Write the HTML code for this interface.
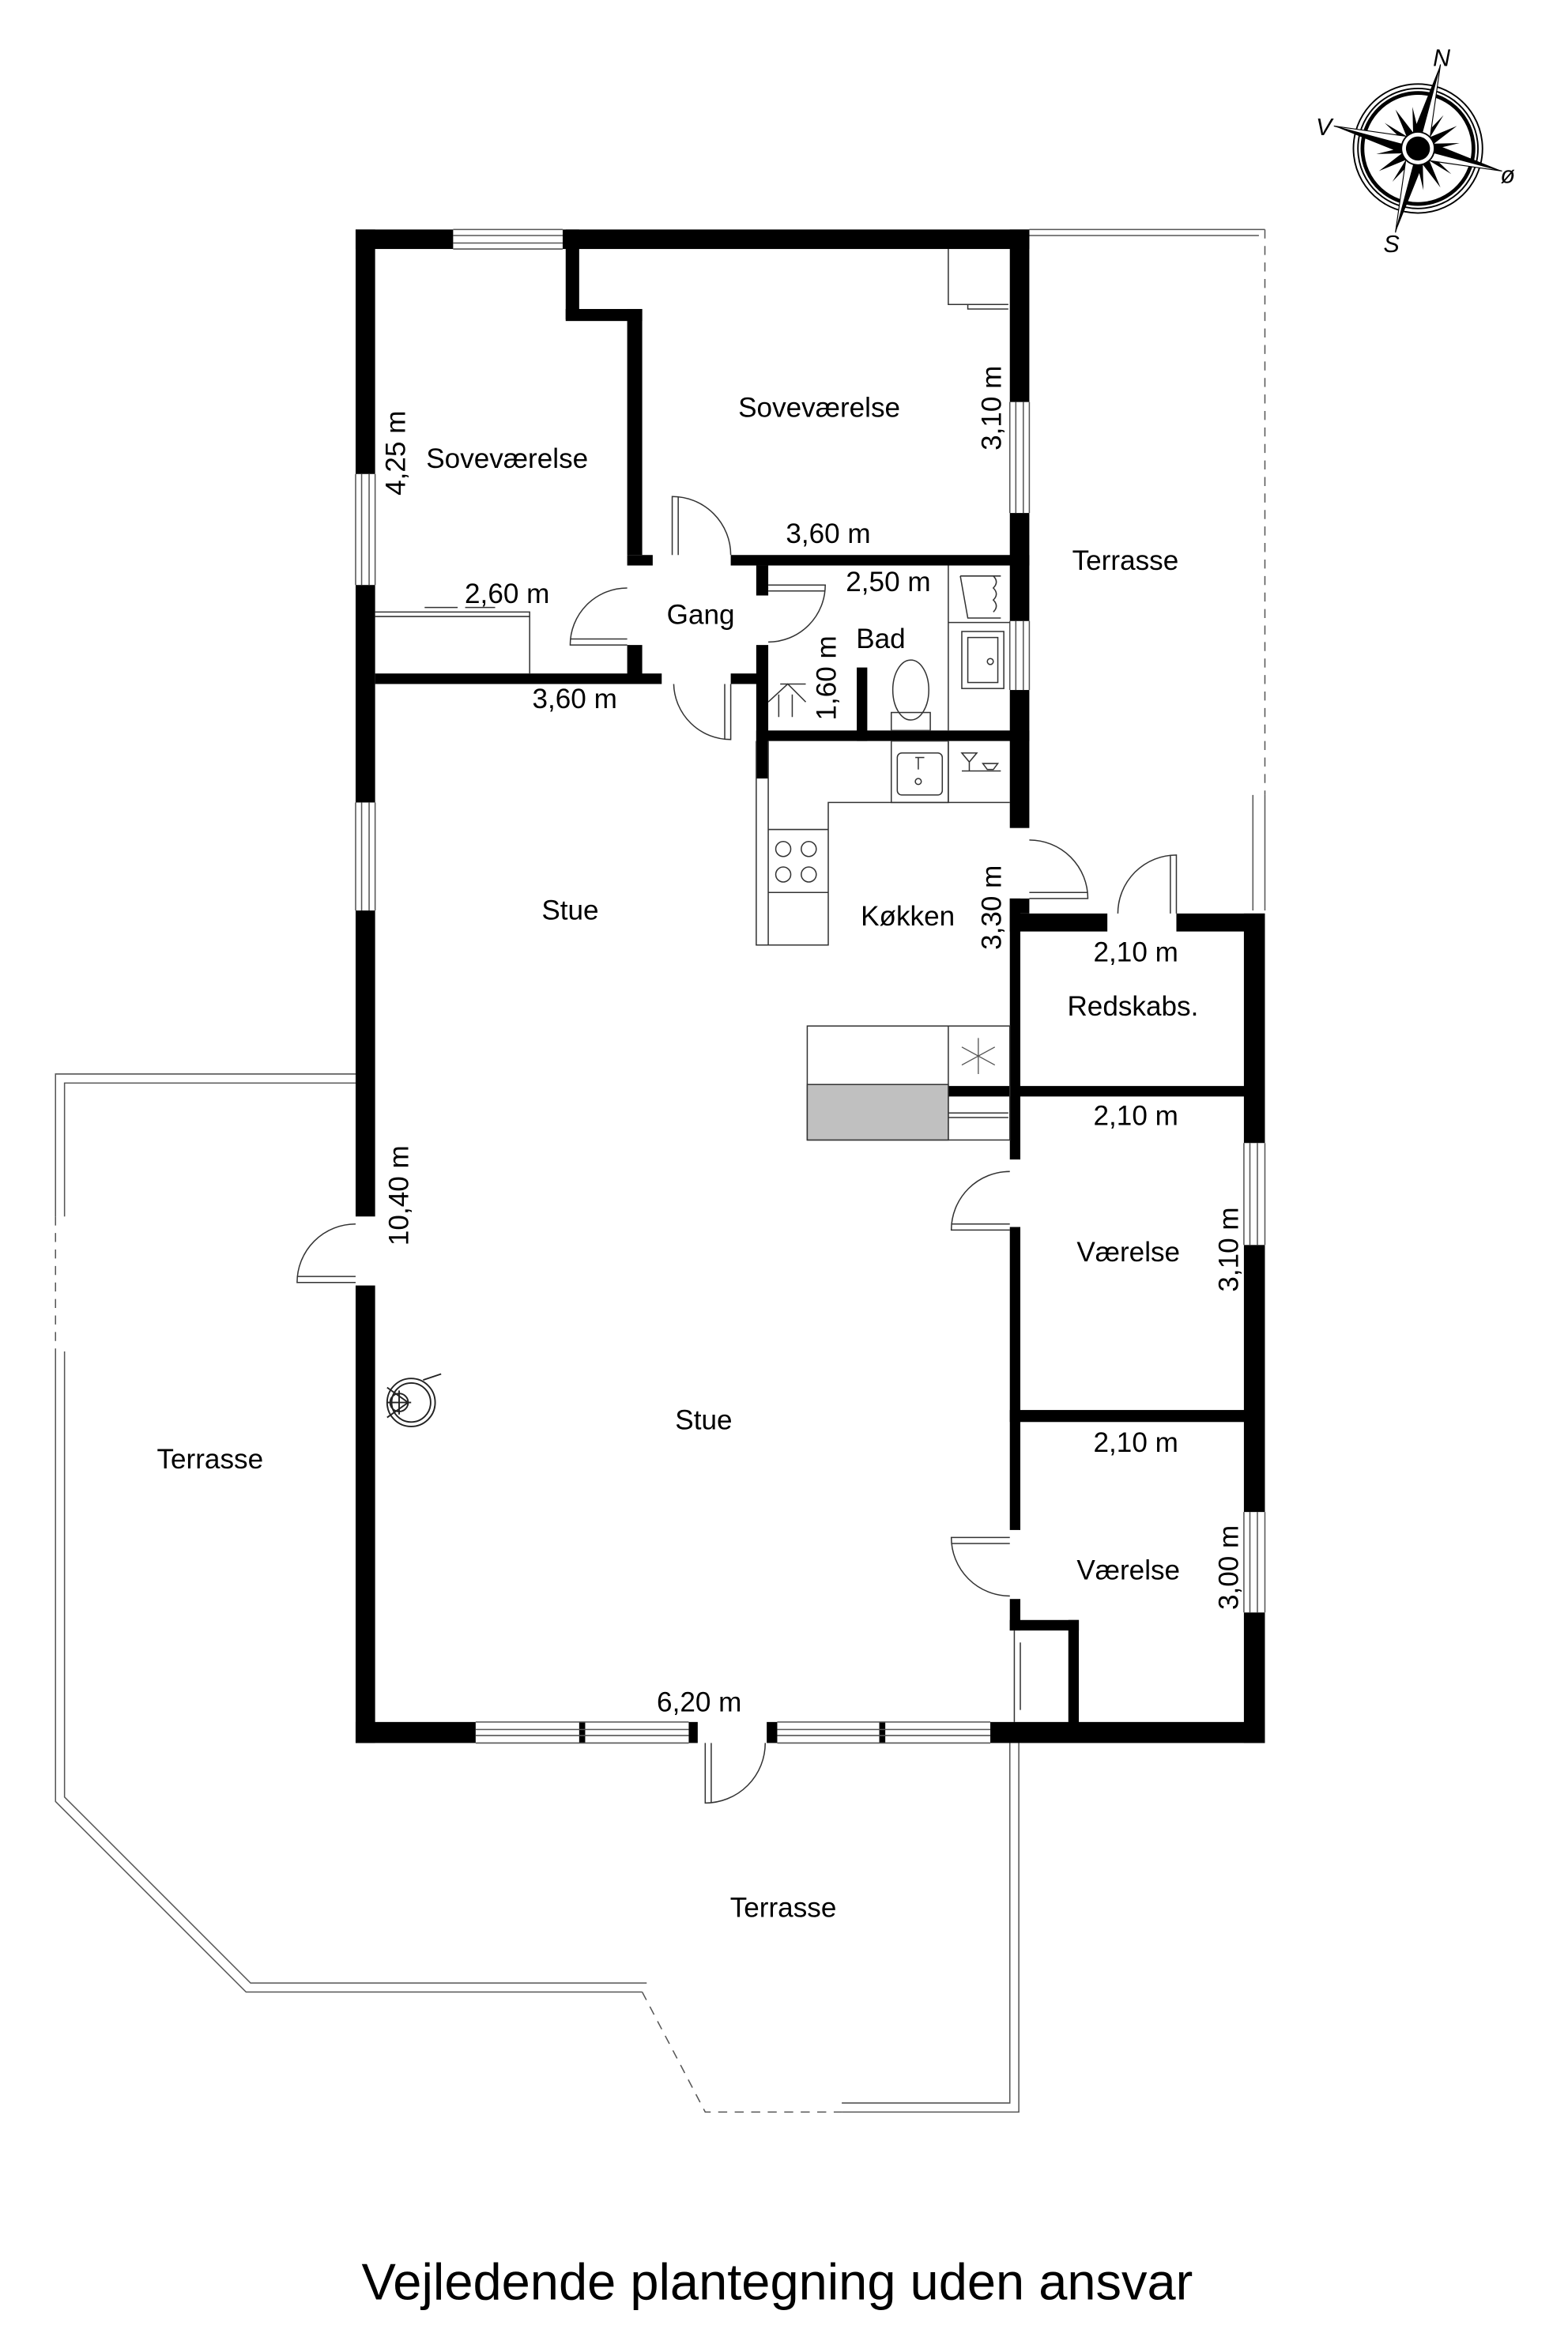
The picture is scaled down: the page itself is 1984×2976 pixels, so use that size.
<!DOCTYPE html>
<html><head><meta charset="utf-8"><style>
html,body{margin:0;padding:0;background:#fff}
svg{display:block}
text{font-family:"Liberation Sans",Arial,sans-serif;fill:#000}
</style></head><body>
<svg width="1984" height="2976" viewBox="0 0 1045 1568" preserveAspectRatio="none" xmlns="http://www.w3.org/2000/svg">
<rect width="1045" height="1568" fill="#fff"/>

<g fill="none" stroke="#555" stroke-width="0.8">
  <path d="M686 153 H843"/><path d="M686 157 H839"/>
  <path d="M843 153 V530" stroke-dasharray="6,5"/>
  <path d="M835 530 V607 M843 530 V607"/>
  <path d="M237 716 H37 V811"/><path d="M237 722 H43 V811"/>
  <path d="M37 811 V901" stroke-dasharray="6,5"/>
  <path d="M37 901 V1201 L164 1328 H428"/>
  <path d="M43 901 V1198 L167 1322 H431"/>
  <path d="M428 1328 L470 1408 H561" stroke-dasharray="6,5"/>
  <path d="M561 1408 H679 V1162"/>
  <path d="M561 1402 H673 V1162"/>
</g>

<g fill="#000">
  <rect x="237" y="153" width="65" height="13"/>
  <rect x="375" y="153" width="311" height="13"/>
  <rect x="237" y="153" width="13" height="163"/>
  <rect x="237" y="390" width="13" height="145"/>
  <rect x="237" y="607" width="13" height="204"/>
  <rect x="237" y="857" width="13" height="305"/>
  <rect x="237" y="1148" width="80" height="14"/>
  <rect x="386" y="1148" width="4" height="14"/>
  <rect x="459" y="1148" width="6" height="14"/>
  <rect x="511" y="1148" width="7" height="14"/>
  <rect x="586" y="1148" width="4" height="14"/>
  <rect x="660" y="1148" width="183" height="14"/>
  <rect x="673" y="153" width="13" height="115"/>
  <rect x="673" y="342" width="13" height="72"/>
  <rect x="673" y="460" width="13" height="92"/>
  <rect x="673" y="599" width="13" height="10"/>
  <rect x="673" y="599" width="7" height="174"/>
  <rect x="673" y="818" width="7" height="202"/>
  <rect x="673" y="1066" width="7" height="21"/>
  <rect x="673" y="1080" width="46" height="7"/>
  <rect x="712" y="1080" width="7" height="70"/>
  <rect x="673" y="609" width="65" height="12"/>
  <rect x="784" y="609" width="59" height="12"/>
  <rect x="829" y="609" width="14" height="153"/>
  <rect x="829" y="830" width="14" height="178"/>
  <rect x="829" y="1075" width="14" height="87"/>
  <rect x="632" y="724" width="211" height="7"/>
  <rect x="673" y="940" width="170" height="8"/>
  <rect x="377" y="153" width="9" height="60"/>
  <rect x="377" y="206" width="51" height="8"/>
  <rect x="418" y="206" width="10" height="164"/>
  <rect x="418" y="370" width="17" height="7"/>
  <rect x="487" y="370" width="199" height="7"/>
  <rect x="418" y="430" width="10" height="25"/>
  <rect x="250" y="449" width="191" height="7"/>
  <rect x="487" y="449" width="23" height="7"/>
  <rect x="504" y="377" width="8" height="20"/>
  <rect x="504" y="430" width="8" height="89"/>
  <rect x="504" y="487" width="182" height="7"/>
  <rect x="571" y="445" width="7" height="49"/>
</g>

<g fill="none" stroke="#555" stroke-width="0.8">
  <path d="M302 153 H375 M302 157 H375 M302 162 H375 M302 166 H375"/>
  <path d="M237 316 V390 M241 316 V390 M246 316 V390 M250 316 V390"/>
  <path d="M237 535 V607 M241 535 V607 M246 535 V607 M250 535 V607"/>
  <path d="M317 1148 H459 M317 1153 H459 M317 1157 H459 M317 1162 H459"/>
  <path d="M518 1148 H660 M518 1153 H660 M518 1157 H660 M518 1162 H660"/>
  <path d="M673 268 V342 M677 268 V342 M682 268 V342 M686 268 V342"/>
  <path d="M673 414 V460 M677 414 V460 M682 414 V460 M686 414 V460"/>
  <path d="M829 762 V830 M833 762 V830 M838 762 V830 M843 762 V830"/>
  <path d="M829 1008 V1075 M833 1008 V1075 M838 1008 V1075 M843 1008 V1075"/>
</g>

<g fill="none" stroke="#333" stroke-width="0.8">
  <path d="M448 370 V331 A39 39 0 0 1 487 370"/><path d="M452 370 V331"/>
  <path d="M418 430 H380 A38 38 0 0 1 418 392"/><path d="M418 426 H380"/>
  <path d="M512 390 H550 A38 38 0 0 1 512 428"/><path d="M512 394 H550"/>
  <path d="M487 456 V493 A38 38 0 0 1 449 456"/><path d="M483 456 V493"/>
  <path d="M686 599 H725 A39 39 0 0 0 686 560"/><path d="M686 595 H725"/>
  <path d="M784 609 V570 A39 39 0 0 0 745 609"/><path d="M780 609 V570"/>
  <path d="M673 820 H634 A39 39 0 0 1 673 781"/><path d="M673 816 H634"/>
  <path d="M673 1025 H634 A39 39 0 0 0 673 1064"/><path d="M673 1029 H634"/>
  <path d="M237 855 H198 A39 39 0 0 1 237 816"/><path d="M237 851 H198"/>
  <path d="M470 1162 V1202 A40 40 0 0 0 510 1162"/><path d="M474 1162 V1202"/>
  <path d="M676 1087 V1148 M680 1095 V1140"/>
</g>

<g fill="none" stroke="#333" stroke-width="0.8">
  <path d="M250 408 H353 V449"/><path d="M250 411 H353"/>
  <path d="M283 405 H305 M310 405 H330"/>
  <path d="M632 166 V203 H672"/><path d="M645 203 V206 H672"/>
  <path d="M632 377 V487"/><path d="M632 415 H673"/>
  <path d="M640 384 H667 M640 384 L645 412 H667"/>
  <path d="M662 384 q4 4 0 8 q4 4 0 8 q4 4 0 8" />
  <rect x="641" y="421" width="28" height="38"/><rect x="645" y="425" width="20" height="30"/>
  <circle cx="660" cy="441" r="2"/>
  <ellipse cx="607" cy="460" rx="12" ry="20"/>
  <rect x="594" y="475" width="26" height="12"/>
  <path d="M512 468 L525 456 L537 468 M519 463 V478 M528 463 V478 M520 456 H537"/>
  <path d="M504 494 V630 H552 V535 H673"/>
  <path d="M512 494 V630"/>
  <path d="M512 553 H552 M512 595 H552"/>
  <circle cx="522" cy="566" r="5"/><circle cx="539" cy="566" r="5"/>
  <circle cx="522" cy="583" r="5"/><circle cx="539" cy="583" r="5"/>
  <rect x="594" y="494" width="38" height="41"/>
  <rect x="598" y="502" width="30" height="28" rx="3"/>
  <circle cx="612" cy="521" r="2"/><path d="M610 505 H616 M612 505 V513"/>
  <path d="M632 494 V535"/>
  <path d="M641 502 L651 502 L646 508 Z M646 508 V514 M655 509 H665 L662 513 H658 Z M641 514 H667"/>
  <rect x="538" y="684" width="135" height="76"/>
  <path d="M538 723 H632 M632 684 V760"/>
  <path d="M632 742 H672 M632 745 H672"/>
</g>
<rect x="538" y="723" width="94" height="37" fill="#c0c0c0" stroke="#333" stroke-width="0.8"/>
<g stroke="#555" stroke-width="0.7" fill="none">
  <path d="M652 692 V716 M641 698 L663 710 M641 710 L663 698"/>
</g>
<g fill="none" stroke="#222" stroke-width="1">
  <circle cx="274" cy="935" r="16"/>
  <circle cx="274" cy="935" r="13"/>
  <circle cx="266" cy="935" r="6"/>
  <path d="M258 935 H274 M266 927 V943 M258 925 L272 935 L258 945"/>
  <path d="M282 920 L294 916"/>
</g>

<g transform="translate(945,99) rotate(15)">
  <circle r="43" fill="none" stroke="#000" stroke-width="1"/>
  <circle r="40" fill="none" stroke="#000" stroke-width="1"/>
  <circle r="37" fill="none" stroke="#000" stroke-width="2.5"/>
  <g fill="#000">
    <g transform="rotate(22.5)"><path d="M0 -28 L3 0 L0 28 L-3 0Z M-28 0 L0 3 L28 0 L0 -3Z"/></g>
    <g transform="rotate(67.5)"><path d="M0 -28 L3 0 L0 28 L-3 0Z M-28 0 L0 3 L28 0 L0 -3Z"/></g>
    <g transform="rotate(45)"><path d="M0 -30 L4 0 L0 30 L-4 0Z M-30 0 L0 4 L30 0 L0 -4Z"/></g>
    <path d="M0 -58 L7 0 L0 58 L-7 0Z M-58 0 L0 7 L58 0 L0 -7Z"/>
  </g>
  <path d="M0 -58 L7 0 L0 0Z M58 0 L0 7 L0 0Z M0 58 L-7 0 L0 0Z M-58 0 L0 -7 L0 0Z" fill="#fff" stroke="#000" stroke-width="0.6"/>
  <circle r="11" fill="#fff" stroke="#000" stroke-width="1"/>
  <circle r="8" fill="#000"/>
</g>
<g font-style="italic" font-size="16">
  <text x="955" y="44">N</text>
  <text x="877" y="90">V</text>
  <text x="1000" y="122">ø</text>
  <text x="922" y="168">S</text>
</g>

<g font-size="18.5" text-anchor="middle">
  <text x="338" y="312">Soveværelse</text>
  <text x="546" y="278">Soveværelse</text>
  <text x="552" y="362">3,60 m</text>
  <text x="338" y="402">2,60 m</text>
  <text x="467" y="416">Gang</text>
  <text x="592" y="394">2,50 m</text>
  <text x="587" y="432">Bad</text>
  <text x="383" y="472">3,60 m</text>
  <text x="380" y="613">Stue</text>
  <text x="605" y="617">Køkken</text>
  <text x="750" y="380">Terrasse</text>
  <text x="757" y="641">2,10 m</text>
  <text x="755" y="677">Redskabs.</text>
  <text x="757" y="750">2,10 m</text>
  <text x="752" y="841">Værelse</text>
  <text x="469" y="953">Stue</text>
  <text x="140" y="979">Terrasse</text>
  <text x="757" y="968">2,10 m</text>
  <text x="752" y="1053">Værelse</text>
  <text x="466" y="1141">6,20 m</text>
  <text x="522" y="1278">Terrasse</text>
  <text transform="translate(270,302) rotate(-90)">4,25 m</text>
  <text transform="translate(667,272) rotate(-90)">3,10 m</text>
  <text transform="translate(557,452) rotate(-90)">1,60 m</text>
  <text transform="translate(667,605) rotate(-90)">3,30 m</text>
  <text transform="translate(825,833) rotate(-90)">3,10 m</text>
  <text transform="translate(272,797) rotate(-90)">10,40 m</text>
  <text transform="translate(825,1045) rotate(-90)">3,00 m</text>
</g>
<text x="241" y="1533" font-size="34" textLength="554" lengthAdjust="spacingAndGlyphs">Vejledende plantegning uden ansvar</text>
</svg>
</body></html>
